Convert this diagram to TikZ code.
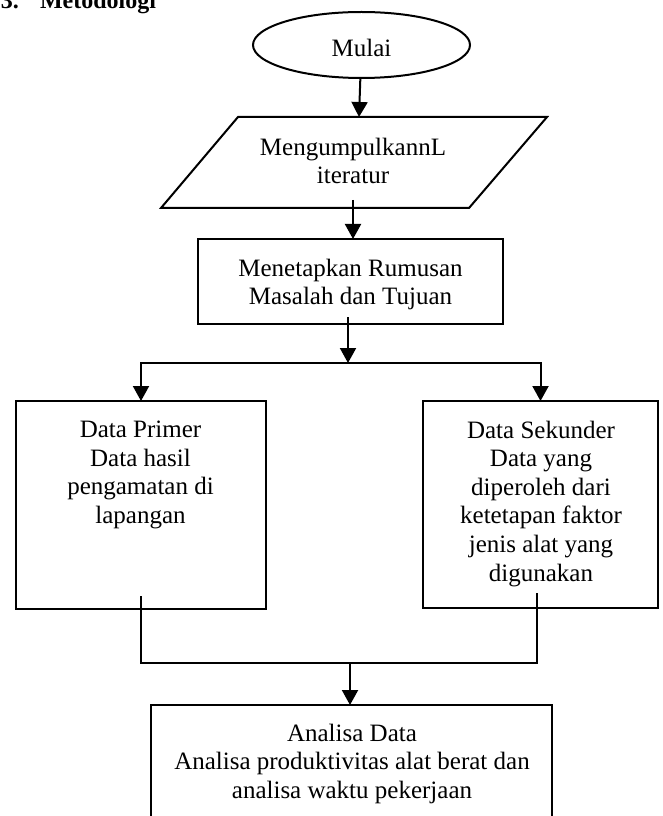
\documentclass[tikz,border=0pt]{standalone}
\usepackage{fontspec}
\setmainfont{Liberation Serif}
\usetikzlibrary{arrows.meta,shapes.geometric}
\begin{document}
\begin{tikzpicture}[x=0.75pt,y=-0.75pt,line width=1.5pt,
  box/.style={draw,rectangle,inner sep=0pt,outer sep=0pt,anchor=north west},
  txt/.style={font=\fontsize{18.75pt}{21.4pt}\selectfont,align=center,inner sep=0pt,anchor=north},
  arr/.style={-{Triangle[length=11.25pt,width=12pt]}}]
\clip (0,0) rectangle (662,816);
% title
\node[anchor=base west,inner sep=0pt,font=\bfseries\fontsize{18pt}{20pt}\selectfont] (title) at (0,9) {\makebox[29.25pt][l]{3.}Metodologi};
% start
\node[draw,ellipse,minimum width=162.75pt,minimum height=49.5pt,inner sep=0pt,
      font=\fontsize{18.75pt}{21.4pt}\selectfont,text height=18pt] (mulai) at (361.5,45) {Mulai};
% input parallelogram
\draw (238,117) -- (547,117) -- (469,208) -- (161,208) -- cycle;
\coordinate (littop) at (359,117);
\coordinate (litin) at (353,200);
\node[txt] (littext) at (353,137) {MengumpulkannL\\iteratur};
% rumusan
\node[box,minimum width=228.75pt,minimum height=63.75pt] (rumus) at (198,239) {};
\node[txt] (rumustext) at (350.5,258) {Menetapkan Rumusan\\Masalah dan Tujuan};
% data boxes
\node[box,minimum width=187.5pt,minimum height=156pt] (primer) at (16,401) {};
\node[txt] (primertext) at (140.5,420) {Data Primer\\Data hasil\\pengamatan di\\lapangan};
\node[box,minimum width=176.25pt,minimum height=155.25pt] (sekunder) at (423,401) {};
\node[txt] (sekundertext) at (541,420) {Data Sekunder\\Data yang\\diperoleh dari\\ketetapan faktor\\jenis alat yang\\digunakan};
% analisa
\node[box,minimum width=300.75pt,minimum height=112.5pt] (analisa) at (151,705) {};
\node[txt] (analisatext) at (352,723) {Analisa Data\\Analisa produktivitas alat berat dan\\analisa waktu pekerjaan};
% connectors
\coordinate (rumin) at (348,317);
\coordinate (split) at (348,363);
\coordinate (pin) at (141,596);
\coordinate (sin) at (537,593);
\coordinate (merge) at (350,663);
\draw[arr] (mulai) -- (littop);
\draw[arr] (litin) -- (litin |- rumus.north);
\draw[arr] (rumin) -- (split);
\draw[arr] (split) -| (primer.north);
\draw[arr] (split) -| (sekunder.north);
\draw (pin) |- (sin |- merge) -- (sin);
\draw[arr] (merge) -- (merge |- analisa.north);
\end{tikzpicture}
\end{document}
